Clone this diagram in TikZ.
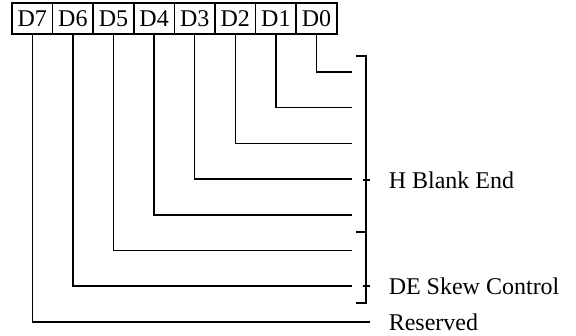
\documentclass[tikz,border=0pt]{standalone}
\usepackage{fontspec}
\setmainfont{Liberation Serif}
\usetikzlibrary{positioning}

\begin{document}
\begin{tikzpicture}[x=1pt,y=-1pt,line width=1.5pt,every node/.style={font=\fontsize{24}{24}\selectfont},
  bitbox/.style={draw,minimum width=40.6pt,minimum height=31pt,inner sep=0pt},
  fieldlabel/.style={anchor=west,inner sep=0pt}]
\useasboundingbox (0,0) rectangle (576,336);
% register bits
\foreach \i in {0,...,7}{
  \node[bitbox] (d\i) at ({32.3+(7-\i)*40.6},18.5) {D\i};
}
% line ends
\foreach \i in {0,...,6}{
  \coordinate (e\i) at (352,{72+35.7*\i});
}
\coordinate (e7) at (370,322);
\foreach \i in {0,...,7}{
  \draw (d\i.south) |- (e\i);
}
% bracket
\draw (356,56) -- (366,56) -- (366,303) -- (356,303);
\draw (356,232) -- (366,232);
\draw (363,180) -- (370,180);
\draw (363,286) -- (370,286);
% fields
\node[fieldlabel] (hbe) at (388,180) {H Blank End};
\node[fieldlabel] (des) at (388,286) {DE Skew Control};
\node[fieldlabel] (res) at (388,322) {Reserved};
\end{tikzpicture}
\end{document}
